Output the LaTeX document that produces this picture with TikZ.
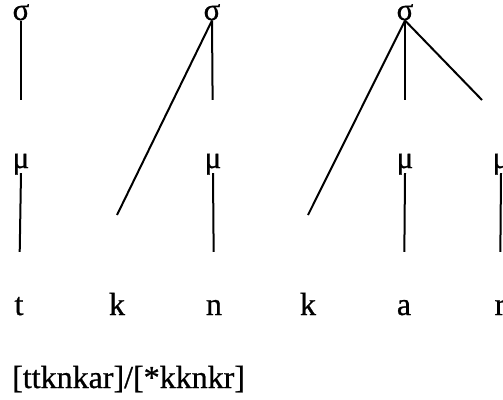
\documentclass[tikz,border=0pt]{standalone}
\usepackage{fontspec}
\setmainfont{Liberation Serif}[FakeBold=0.8]

\begin{document}
\begin{tikzpicture}[
  x=1pt, y=-1pt,
  syl/.style={font=\fontsize{31}{32}\selectfont, inner sep=0pt, anchor=base},
  mora/.style={font=\fontsize{31}{32}\selectfont, inner sep=0pt, anchor=base,
               text height=16pt, text depth=5pt},
  seg/.style={font=\fontsize{32}{36}\selectfont, inner sep=0pt, anchor=base,
              text height=20pt, text depth=0pt},
  gloss/.style={font=\fontsize{32}{36}\selectfont, inner sep=0pt, anchor=base west},
  assoc/.style={line width=2pt},
]
  \useasboundingbox (0,0) rectangle (503,399);

  %% syllables
  \node[syl] (s1) at (21,20) {σ};
  \node[syl] (s2) at (212,20) {σ};
  \node[syl] (s3) at (405,20) {σ};

  %% moras
  \node[mora] (m1) at (21,168) {μ};
  \node[mora] (m2) at (213,168) {μ};
  \node[mora] (m3) at (405,168) {μ};
  \node[mora] (m4) at (501,168) {μ};

  %% segments
  \node[seg] (t) at (19,315) {t};
  \node[seg] (k1) at (117,315) {k};
  \node[seg] (n) at (214,315) {n};
  \node[seg] (k2) at (308,315) {k};
  \node[seg] (a) at (404,315) {a};
  \node[seg] (r) at (500,315) {r};

  \node[gloss] (form) at (12,388) {[ttknkar]/[*kknkr]};

  %% free ends of the slanted lines
  \coordinate (k1end) at (117,215);
  \coordinate (k2end) at (308,215);
  \coordinate (m4end) at (482,100);

  %% syllable to mora
  \draw[assoc, shorten >=52pt] (s1.south) -- (m1.north);
  \draw[assoc, shorten >=52pt] (s2.south) -- (m2.north);
  \draw[assoc, shorten >=52pt] (s3.south) -- (m3.north);
  \draw[assoc] (s3.south) -- (m4end);

  %% syllable to onset
  \draw[assoc] (s2.south) -- (k1end);
  \draw[assoc] (s3.south) -- (k2end);

  %% mora to segment
  \draw[assoc, shorten >=43pt] (m1.south) -- (t.north);
  \draw[assoc, shorten >=43pt] (m2.south) -- (n.north);
  \draw[assoc, shorten >=43pt] (m3.south) -- (a.north);
  \draw[assoc, shorten >=43pt] (m4.south) -- (r.north);
\end{tikzpicture}
\end{document}
